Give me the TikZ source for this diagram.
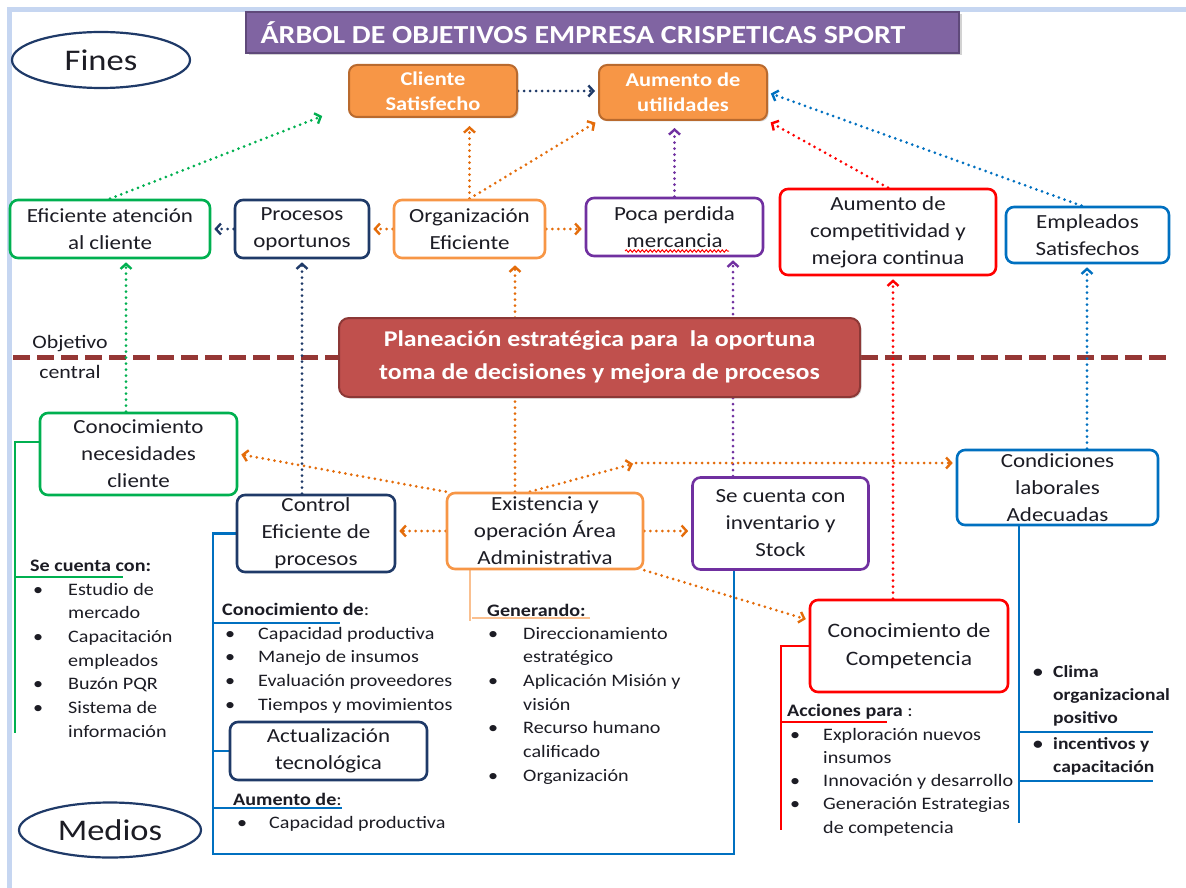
\documentclass[tikz,border=0pt]{standalone}
\usepackage{fontspec}
\setmainfont{Carlito}[FakeStretch=1.15]
\usetikzlibrary{arrows.meta,shapes.geometric,backgrounds,decorations.pathmorphing,shadows}

\definecolor{orfill}{HTML}{F79646}
\definecolor{orline}{HTML}{B96A2E}
\definecolor{ordot}{HTML}{E46C0A}
\definecolor{grn}{HTML}{00B050}
\definecolor{navy}{HTML}{1F3A68}
\definecolor{purp}{HTML}{7030A0}
\definecolor{rd}{HTML}{FF0000}
\definecolor{blu}{HTML}{0070C0}
\definecolor{brick}{HTML}{C0504D}
\definecolor{brickline}{HTML}{8C3836}
\definecolor{titlefill}{HTML}{8064A2}
\definecolor{titleline}{HTML}{5F497A}
\definecolor{dashred}{HTML}{953735}
\definecolor{framec}{HTML}{C6D6F1}
\definecolor{lightor}{HTML}{FAC090}
\definecolor{txt}{HTML}{1C1C24}

\newcommand\fs[2]{\fontsize{#1}{#2}\selectfont}
\newcommand\bul[1]{\makebox[#1][l]{\textbullet}}
\newcommand\ind[1]{\hspace*{#1}}
% a column of lines whose baseline is that of its first line
\newcommand\rows[1]{\begin{tabular}[t]{@{}l@{}}#1\end{tabular}}

\tikzset{
  box/.style={draw, line width=2.6pt, rounded corners=8pt, fill=white, align=center,
    inner sep=0pt, text=txt, font=\fs{20}{27}},
  solidbox/.style={draw=orline, fill=orfill, line width=2pt, rounded corners=8pt, align=center,
    inner sep=0pt, text=white, font=\bfseries\fs{19.5}{25},
    drop shadow={shadow xshift=1.5pt, shadow yshift=-1.5pt, opacity=.3}},
  oval/.style={ellipse, draw=navy, line width=2.2pt, fill=white, inner sep=0pt, text=txt,
    font=\fs{30}{36}},
  link/.style={line width=3pt, dash pattern=on 0pt off 6pt, line cap=round, shorten >=3pt,
    -{Straight Barb[length=5pt,width=11pt,line width=2.4pt]}},
  bracket/.style={line width=2.6pt},
  lst/.style={inner sep=0pt, anchor=base west, text=txt, font=\fs{17.5}{23.67}},
  hdr/.style={inner sep=0pt, anchor=base west, text=txt, font=\bfseries\fs{17.5}{23.67}},
}

\begin{document}
\begin{tikzpicture}[x=1pt,y=-1pt]
\useasboundingbox (0,0) rectangle (1186,888);

% title banner and the two side labels
\node[fill=titlefill, draw=titleline, line width=1.2pt, minimum width=713pt, minimum height=41pt,
  inner sep=0pt, drop shadow={shadow xshift=2.5pt, shadow yshift=-2.5pt, opacity=.35}]
  (title) at (602.5,32.5) {};
\node[inner sep=0pt, text=white, font=\bfseries\fs{26}{30}] (titletext) at (583,32.5)
  {ÁRBOL DE OBJETIVOS EMPRESA CRISPETICAS SPORT};
\node[oval, minimum width=178pt, minimum height=56pt] (fines) at (101,60) {Fines};
\node[oval, minimum width=182pt, minimum height=55pt] (medios) at (110,830) {Medios};

% ends
\node[solidbox, minimum width=168pt, minimum height=52pt] (cliente) at (433,91) {Cliente\\Satisfecho};
\node[solidbox, minimum width=168pt, minimum height=55pt] (utilidades) at (683,92.5) {Aumento de\\utilidades};

\node[box, draw=grn, minimum width=200pt, minimum height=58pt] (eficiente) at (110,229) {Eficiente atención\\al cliente};
\node[box, draw=navy, minimum width=134pt, minimum height=58pt] (procesos) at (302,229) {Procesos\\oportunos};
\node[box, draw=orfill, minimum width=151pt, minimum height=58pt] (organizacion) at (469.5,229) {Organización\\Eficiente};
\node[box, draw=purp, minimum width=177pt, minimum height=58pt] (poca) at (674.5,227) {Poca perdida\\mercancia};
\node[box, draw=rd, minimum width=216pt, minimum height=86pt] (competitividad) at (888,232) {Aumento de\\competitividad y\\mejora continua};
\node[box, draw=blu, minimum width=163pt, minimum height=56pt] (empleados) at (1087.5,235) {Empleados\\Satisfechos};

% central objective
\node[fill=brick, draw=brickline, line width=2pt, rounded corners=10pt, minimum width=521pt,
  minimum height=79pt, inner sep=0pt, text=white, align=center, font=\bfseries\fs{22.5}{33},
  drop shadow={shadow xshift=1.5pt, shadow yshift=-1.5pt, opacity=.3}]
  (planeacion) at (599.5,357.5) {Planeación estratégica para\ \ la oportuna\\toma de decisiones y mejora de procesos};
\node[inner sep=0pt, text=txt, align=center, font=\fs{19}{30}] (objetivo) at (70,357) {Objetivo\\central};

% means
\node[box, draw=grn, minimum width=197pt, minimum height=82pt] (necesidades) at (138.5,454) {Conocimiento\\necesidades\\cliente};
\node[box, draw=navy, minimum width=158pt, minimum height=77pt] (control) at (316,533.5) {Control\\Eficiente de\\procesos};
\node[box, draw=orfill, minimum width=196pt, minimum height=76pt] (existencia) at (545,531) {Existencia y\\operación Área\\Administrativa};
\node[box, draw=purp, minimum width=176pt, minimum height=92pt] (inventario) at (780.5,523.5) {Se cuenta con\\inventario y\\Stock};
\node[box, draw=blu, minimum width=201pt, minimum height=75pt] (condiciones) at (1057.5,487.5) {Condiciones\\laborales\\Adecuadas};
\node[box, draw=rd, minimum width=198pt, minimum height=92pt, font=\fs{20.5}{28}] (competencia) at (909,646) {Conocimiento de\\Competencia};
\node[box, draw=navy, minimum width=197pt, minimum height=58pt] (actualizacion) at (328.5,751) {Actualización\\tecnológica};

% spelling mark under "mercancia"
\draw[rd, line width=1pt, decorate, decoration={snake, amplitude=1.2pt, segment length=4pt}]
  (625,251) -- (729,251);

% detail lists
\node[hdr] (hdrcliente) at (30,571) {Se cuenta con:};
\node[lst] (lstcliente) at (33,595) {\rows{\bul{35pt}Estudio de\\\ind{35pt}mercado\\\bul{35pt}Capacitación\\\ind{35pt}empleados\\\bul{35pt}Buzón PQR\\\bul{35pt}Sistema de\\\ind{35pt}información}};

\node[hdr] (hdrcontrol) at (222,615) {Conocimiento de\textmd{:}};
\node[lst] (lstcontrol) at (225,639) {\rows{\bul{33pt}Capacidad productiva\\\bul{33pt}Manejo de insumos\\\bul{33pt}Evaluación proveedores\\\bul{33pt}Tiempos y movimientos}};
\node[hdr] (hdraumento) at (233,805) {Aumento de\textmd{:}};
\node[lst] (lstaumento) at (237,828) {\bul{32pt}Capacidad productiva};

\node[hdr] (hdrexist) at (487,616) {Generando:};
\node[lst] (lstexist) at (488,639) {\rows{\bul{35pt}Direccionamiento\\\ind{35pt}estratégico\\\bul{35pt}Aplicación Misión y\\\ind{35pt}visión\\\bul{35pt}Recurso humano\\\ind{35pt}calificado\\\bul{35pt}Organización}};

\node[hdr] (hdrcomp) at (787,716) {Acciones para\textmd{ :}};
\node[lst, font=\fs{17.5}{23.25}] (lstcomp) at (790,740) {\rows{\bul{33pt}Exploración nuevos\\\ind{33pt}insumos\\\bul{33pt}Innovación y desarrollo\\\bul{33pt}Generación Estrategias\\\ind{33pt}de competencia}};

\node[lst, font=\bfseries\fs{17}{23}] (lstclima) at (1033,677) {\rows{\bul{20pt}Clima\\\ind{20pt}organizacional\\\ind{20pt}positivo}};
\node[lst, font=\bfseries\fs{17}{23}] (lstincent) at (1033,749) {\rows{\bul{20pt}incentivos y\\\ind{20pt}capacitación}};

\begin{scope}[on background layer]
  \fill[white] (0,0) rectangle (1186,888);
  \draw[framec, line width=5pt] (9.5,888) -- (9.5,9.5) -- (1186,9.5);
  % divider between ends and means
  \draw[dashred, line width=5pt, dash pattern=on 17pt off 7pt] (13,357.5) -- (planeacion.west);
  \draw[dashred, line width=5pt, dash pattern=on 17pt off 7pt] (planeacion.east) -- (1166,357.5);

  % links towards the ends
  \draw[link, navy] (cliente.east) -- (cliente.east -| utilidades.west);
  \draw[link, ordot, shorten >=8pt] (organizacion.north) -- (organizacion.north |- cliente.south);
  \draw[link, ordot] (organizacion.north) -- (utilidades.south west);
  \draw[link, purp, shorten >=7pt] (poca.north) -- (poca.north |- utilidades.south);
  \draw[link, rd] (competitividad.north) -- (utilidades.south east);
  \draw[link, blu] ([xshift=-6pt]empleados.north) -- (utilidades.east);
  \coordinate (greentip) at (325,115);
  \draw[link, grn] (eficiente.north) -- (greentip);
  \draw[link, navy] (procesos) -- (eficiente);
  \draw[link, ordot] (organizacion) -- (procesos);
  \draw[link, ordot] (organizacion.east) -- (organizacion.east -| poca.west);

  % links from the means
  \draw[link, grn] ([xshift=-12.5pt]necesidades.north) -- ([xshift=-12.5pt]necesidades.north |- eficiente.south);
  \draw[link, navy] ([xshift=-14pt]control.north) -- ([xshift=-14pt]control.north |- procesos.south);
  \draw[link, ordot, shorten >=6pt] ([xshift=-30pt]existencia.north) -- ([xshift=-30pt]existencia.north |- organizacion.south);
  \draw[link, purp] ([xshift=-47.5pt]inventario.north) -- ([xshift=-47.5pt]inventario.north |- poca.south);
  \draw[link, rd] ([xshift=-16pt]competencia.north) -- ([xshift=-16pt]competencia.north |- competitividad.south);
  \draw[link, blu] ([xshift=29.5pt]condiciones.north) -- ([xshift=29.5pt]condiciones.north |- empleados.south);

  \draw[link, ordot] (existencia.north west) -- (necesidades.east);
  \coordinate (midor) at (636,463);
  \draw[link, ordot] ([xshift=-15pt]existencia.north) -- (midor);
  \draw[link, ordot] (midor) -- (midor -| condiciones.west);
  \draw[link, ordot] (existencia.west) -- (existencia.west -| control.east);
  \draw[link, ordot] (existencia.east) -- (existencia.east -| inventario.west);
  \draw[link, ordot] (existencia.south east) -- ([yshift=26pt]competencia.west);

  % brackets holding the detail lists
  \draw[bracket, grn] ([yshift=12pt]necesidades.west) -- (15,442) -- (15,733);
  \draw[bracket, grn] (15,577) -- (123,577);
  \draw[bracket, blu] (control.west) -- (213,533.5) -- (213,854) -- (734,854) -- ([xshift=-46.5pt]inventario.south);
  \draw[bracket, blu] (213,623) -- (340,623);
  \draw[bracket, blu] (213,751) -- (actualizacion.west);
  \draw[bracket, blu] (213,808) -- (342,808);
  \draw[lightor, line width=2pt] ([xshift=-75pt]existencia.south) -- (470,621);
  \draw[lightor, line width=2pt] (472,618) -- (590,618);
  \draw[bracket, rd] (competencia.west) -- (781,646) -- (781,830);
  \draw[bracket, rd] (781,722) -- (887,722);
  \draw[bracket, blu] ([xshift=-38.5pt]condiciones.south) -- (1019,823);
  \draw[bracket, blu] (1019,732) -- (1153,732);
  \draw[bracket, blu] (1019,781) -- (1153,781);
\end{scope}
\end{tikzpicture}
\end{document}
